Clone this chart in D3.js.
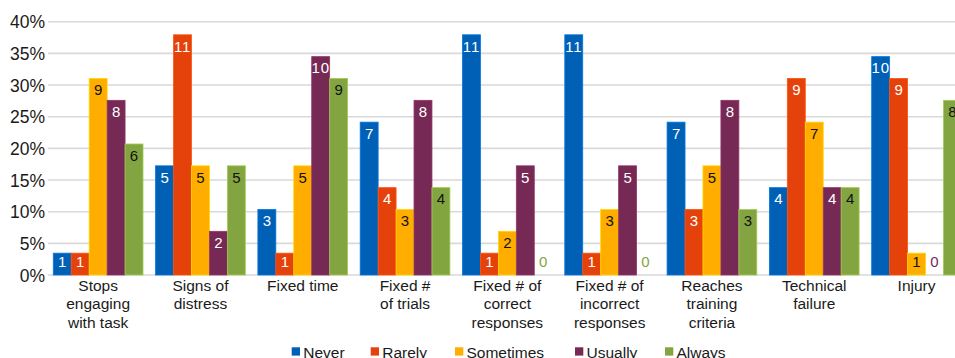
<!DOCTYPE html>
<html>
<head>
<meta charset="utf-8">
<script src="https://cdn.jsdelivr.net/npm/d3@7"></script>
<style>
  html, body { margin: 0; padding: 0; background: #fff; }
  svg { display: block; font-family: "Liberation Sans", Arial, sans-serif; }
</style>
</head>
<body>
<svg id="chart" width="955" height="358"></svg>
<script>
// Survey: how often each criterion is used to end a session (n = 29 respondents)
const categories = [
  ["Stops", "engaging", "with task"],
  ["Signs of", "distress"],
  ["Fixed time"],
  ["Fixed #", "of trials"],
  ["Fixed # of", "correct", "responses"],
  ["Fixed # of", "incorrect", "responses"],
  ["Reaches", "training", "criteria"],
  ["Technical", "failure"],
  ["Injury"]
];
const seriesNames = ["Never", "Rarely", "Sometimes", "Usually", "Always"];
const never     = [1, 5, 3, 7, 11, 11, 7, 4, 10];
const rarely    = [1, 11, 1, 4, 1, 1, 3, 9, 9];
const sometimes = [9, 5, 5, 3, 2, 3, 5, 7, 1];
const usually   = [8, 2, 10, 8, 5, 5, 8, 4, 0];
const always    = [6, 5, 9, 4, 0, 0, 3, 4, 8];
const respondents = 29;
const yTicks = [0, 0.05, 0.10, 0.15, 0.20, 0.25, 0.30, 0.35, 0.40];

const seriesValues = [never, rarely, sometimes, usually, always];
const colors = ["#0060B6", "#E5420B", "#FFAE00", "#772955", "#83A541"];
const labelColors = ["#ffffff", "#ffffff", "#111111", "#ffffff", "#111111"];

const svg = d3.select("#chart");

const y = d3.scaleLinear().domain([0, 0.40]).range([275, 21.7]);
const x0 = d3.scaleBand()
  .domain(d3.range(categories.length))
  .range([47, 47 + 9 * 102.3])
  .paddingInner(0.123)
  .paddingOuter(0.0615);
const x1 = d3.scaleBand()
  .domain(d3.range(seriesNames.length))
  .range([0, x0.bandwidth()]);

// gridlines
svg.append("g")
  .selectAll("line")
  .data(yTicks)
  .join("line")
  .attr("x1", 48).attr("x2", 955)
  .attr("y1", d => y(d)).attr("y2", d => y(d))
  .attr("stroke", "#d9d9d9")
  .attr("stroke-width", 1.6);

// y-axis labels
const yAxis = d3.axisLeft(y).tickValues(yTicks).tickSize(0).tickPadding(0)
  .tickFormat(d3.format(".0%"));
svg.append("g")
  .attr("transform", "translate(45,0)")
  .call(yAxis)
  .call(g => g.select(".domain").remove())
  .call(g => g.selectAll("text")
    .attr("font-family", "Liberation Sans, Arial, sans-serif")
    .attr("font-size", 17.5)
    .attr("fill", "#1a1a1a")
    .attr("dy", "0.35em"));

// bars
const groups = svg.append("g")
  .selectAll("g")
  .data(categories.map((c, i) => i))
  .join("g")
  .attr("transform", i => `translate(${x0(i)},0)`);

const cells = groups.selectAll("g")
  .data(i => seriesValues.map((vals, s) => ({ s, v: vals[i] })))
  .join("g");

cells.append("rect")
  .attr("x", d => x1(d.s))
  .attr("width", x1.bandwidth())
  .attr("y", d => y(d.v / respondents))
  .attr("height", d => y(0) - y(d.v / respondents))
  .attr("fill", d => colors[d.s])
  .attr("stroke", d => d3.color(colors[d.s]).brighter(0.6))
  .attr("stroke-width", d => d.v > 0 ? 0.8 : 0);

// value labels (inside end of bar; zeros sit above the baseline in series colour)
cells.append("text")
  .attr("x", d => x1(d.s) + x1.bandwidth() / 2)
  .attr("y", d => Math.min(y(d.v / respondents) + 16.7, 266.7))
  .attr("text-anchor", "middle")
  .attr("font-size", 15)
  .attr("letter-spacing", d => d.v >= 10 ? "0.8px" : null)
  .attr("fill", d => d.v === 0 ? colors[d.s] : labelColors[d.s])
  .text(d => d.v);

// category labels
const catLabels = svg.append("g")
  .selectAll("text")
  .data(categories)
  .join("text")
  .attr("x", (c, i) => x0(i) + x0.bandwidth() / 2)
  .attr("y", 291)
  .attr("text-anchor", "middle")
  .attr("font-size", 15.5)
  .attr("fill", "#1a1a1a");
catLabels.selectAll("tspan")
  .data(c => c)
  .join("tspan")
  .attr("x", function () { return d3.select(this.parentNode).attr("x"); })
  .attr("dy", (t, j) => j === 0 ? 0 : 18.3)
  .text(t => t);

// legend
const legendX = [291.7, 370.7, 455, 575, 665];
const legend = svg.append("g")
  .selectAll("g")
  .data(seriesNames)
  .join("g")
  .attr("transform", (n, i) => `translate(${legendX[i]},0)`);
legend.append("rect")
  .attr("x", 0).attr("y", 347.3)
  .attr("width", 8.3).attr("height", 8.3)
  .attr("fill", (n, i) => colors[i]);
legend.append("text")
  .attr("x", 11.5).attr("y", 357.5)
  .attr("font-size", 15.5)
  .attr("fill", "#1a1a1a")
  .text(n => n);
</script>
</body>
</html>
